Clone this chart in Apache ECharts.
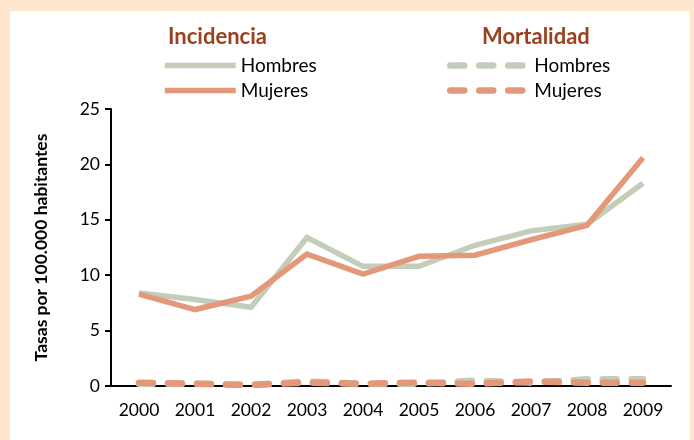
<!DOCTYPE html>
<html>
<head>
    <meta charset="utf-8">
    <title>Tasas</title>
    <script src="https://cdn.jsdelivr.net/npm/echarts@6/dist/echarts.min.js"></script>
    <style>
        html, body { margin: 0; padding: 0; background: #fde6cd; }
    </style>
</head>
<body>
    <div id="main" style="width: 694px;height:440px;"></div>
    <script type="text/javascript">
        // datos
        var years = ['2000', '2001', '2002', '2003', '2004', '2005', '2006', '2007', '2008', '2009'];
        var incHombres = [8.4, 7.8, 7.1, 13.4, 10.8, 10.8, 12.7, 14.0, 14.6, 18.3];
        var incMujeres = [8.3, 6.9, 8.1, 11.9, 10.1, 11.7, 11.8, 13.2, 14.5, 20.6];
        var morHombres = [0.2, 0.2, 0.1, 0.4, 0.2, 0.2, 0.5, 0.3, 0.6, 0.6];
        var morMujeres = [0.3, 0.2, 0.1, 0.3, 0.2, 0.3, 0.2, 0.4, 0.3, 0.3];

        var verde = '#c3cdb9';
        var naranja = '#e3987a';
        var marron = '#99411f';
        var fuente = 'Lato';

        var myChart = echarts.init(document.getElementById('main'));

        var dash = [14, 15];

        function serie(nombre, datos, color, dashed) {
            return {
                name: nombre,
                type: 'line',
                data: datos,
                symbol: 'none',
                animation: false,
                lineStyle: {
                    color: color,
                    width: dashed ? 6.5 : 5.5,
                    type: dashed ? dash : 'solid',
                    cap: dashed ? 'round' : 'butt',
                    join: 'miter'
                },
                itemStyle: { color: color }
            };
        }

        var option = {
            backgroundColor: '#fde6cd',
            animation: false,
            graphic: [{
                type: 'rect',
                left: 10, top: 11, z: -10,
                shape: { width: 680, height: 440 },
                style: { fill: '#ffffff' }
            }],
            title: [
                { text: 'Incidencia', left: 163, top: 21,
                  textStyle: { fontFamily: fuente, fontWeight: 'bold', fontSize: 22, color: marron } },
                { text: 'Mortalidad', left: 477, top: 21,
                  textStyle: { fontFamily: fuente, fontWeight: 'bold', fontSize: 22, color: marron } }
            ],
            legend: [
                {
                    left: 157, top: 51, orient: 'vertical',
                    itemWidth: 71, itemHeight: 14, itemGap: 6,
                    data: ['Incidencia Hombres', 'Incidencia Mujeres'],
                    formatter: function (n) { return n.split(' ')[1]; },
                    lineStyle: { width: 5.5 },
                    itemStyle: { opacity: 0 },
                    selectedMode: false,
                    textStyle: { fontFamily: fuente, fontSize: 19, color: '#000' }
                },
                {
                    left: 442, top: 51, orient: 'vertical',
                    itemWidth: 79, itemHeight: 14, itemGap: 6,
                    data: ['Mortalidad Hombres', 'Mortalidad Mujeres'],
                    formatter: function (n) { return n.split(' ')[1]; },
                    lineStyle: { width: 6.5 },
                    itemStyle: { opacity: 0 },
                    selectedMode: false,
                    textStyle: { fontFamily: fuente, fontSize: 19, color: '#000' }
                }
            ],
            grid: { left: 111, right: 23, top: 109, bottom: 54 },
            xAxis: {
                type: 'category',
                data: years,
                boundaryGap: true,
                axisLine: { lineStyle: { color: '#000', width: 2 } },
                axisTick: { show: false },
                axisLabel: { color: '#000', fontFamily: fuente, fontSize: 17.5, margin: 15 }
            },
            yAxis: {
                type: 'value',
                min: 0, max: 25, interval: 5,
                name: 'Tasas por 100.000 habitantes',
                nameLocation: 'middle',
                nameGap: 61,
                nameTextStyle: { fontFamily: fuente, fontWeight: 'bold', fontSize: 17.5, color: '#000' },
                axisLine: { show: true, lineStyle: { color: '#000', width: 2 } },
                axisTick: { show: true, length: 6, lineStyle: { color: '#000', width: 2 } },
                splitLine: { show: false },
                axisLabel: { color: '#000', fontFamily: fuente, fontSize: 17.5, margin: 11 }
            },
            series: [
                serie('Mortalidad Hombres', morHombres, verde, true),
                serie('Mortalidad Mujeres', morMujeres, naranja, true),
                serie('Incidencia Hombres', incHombres, verde, false),
                serie('Incidencia Mujeres', incMujeres, naranja, false)
            ]
        };

        myChart.setOption(option);
    </script>
</body>
</html>
